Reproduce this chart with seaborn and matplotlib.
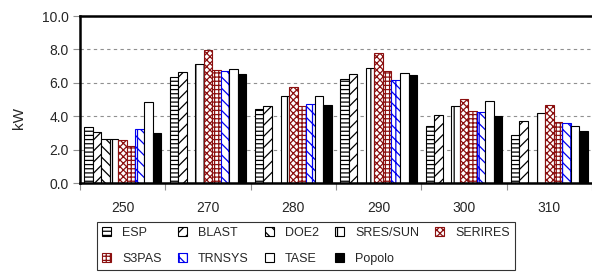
import matplotlib
matplotlib.use("Agg")
import matplotlib.pyplot as plt
import seaborn as sns
import pandas as pd
import numpy as np
from matplotlib.ticker import FixedLocator
from matplotlib.patches import Patch

categories = ["250", "270", "280", "290", "300", "310"]
series = ["ESP", "BLAST", "DOE2", "SRES/SUN", "SERIRES", "S3PAS", "TRNSYS", "TASE", "Popolo"]

esp      = [3.35, 6.35, 4.44, 6.25, 3.42, 2.89]
blast    = [3.05, 6.63, 4.62, 6.55, 4.08, 3.74]
doe2     = [2.63, 0.0, 0.0, 0.0, 0.0, 0.0]
sres_sun = [2.63, 7.15, 5.22, 6.89, 4.62, 4.18]
serires  = [2.60, 7.95, 5.74, 7.79, 5.06, 4.66]
s3pas    = [2.25, 6.79, 4.62, 6.69, 4.34, 3.65]
trnsys   = [3.23, 6.73, 4.76, 6.19, 4.28, 3.58]
tase     = [4.88, 6.85, 5.22, 6.61, 4.92, 3.42]
popolo   = [3.03, 6.53, 4.68, 6.47, 4.04, 3.11]

values = [esp, blast, doe2, sres_sun, serires, s3pas, trnsys, tase, popolo]

rows = []
for name, vals in zip(series, values):
    for c, v in zip(categories, vals):
        rows.append({"cat": c, "series": name, "kW": v})
df = pd.DataFrame(rows)

sns.set_style("white")
plt.rcParams["font.family"] = ["Liberation Sans", "DejaVu Sans"]
plt.rcParams["hatch.linewidth"] = 0.9

styles = {
    "ESP":      dict(face="white", edge="black", hatch="----"),
    "BLAST":    dict(face="white", edge="black", hatch="///"),
    "DOE2":     dict(face="white", edge="black", hatch="\\\\\\"),
    "SRES/SUN": dict(face="white", edge="black", hatch="||"),
    "SERIRES":  dict(face="white", edge="#8B1010", hatch="xxxxx"),
    "S3PAS":    dict(face="white", edge="#8B1010", hatch="++++"),
    "TRNSYS":   dict(face="white", edge="#0000EE", hatch="\\\\\\||"),
    "TASE":     dict(face="white", edge="black", hatch=None),
    "Popolo":   dict(face="black", edge="black", hatch=None),
}

fig = plt.figure(figsize=(5.92, 2.74), dpi=100)
ax = fig.add_axes([80/592, 1-183.3/274, 512/592, (183.3-16)/274])

pal = {s: styles[s]["face"] for s in series}
sns.barplot(data=df, x="cat", y="kW", hue="series", order=categories,
            hue_order=series, palette=pal, width=0.9, ax=ax, legend=False,
            saturation=1, errorbar=None)

for cont, name in zip(ax.containers, series):
    st = styles[name]
    for p in cont.patches:
        p.set_facecolor(st["face"])
        p.set_edgecolor(st["edge"])
        p.set_linewidth(0.8)
        if st["hatch"]:
            p.set_hatch(st["hatch"])

ax.set_xlim(-0.5, 5.5)
ax.set_ylim(0, 10)
ax.set_yticks(np.arange(0, 10.01, 2))
ax.set_yticklabels([f"{v:.1f}" for v in np.arange(0, 10.01, 2)])
ax.yaxis.grid(True, linestyle=(0, (3, 3)), color="#909090", linewidth=0.8)
ax.set_axisbelow(True)

ax.tick_params(axis="y", length=5, width=0.8, color="#909090", pad=3, labelsize=10, left=True)
ax.tick_params(axis="x", which="major", length=0, pad=12.5, labelsize=10)
ax.xaxis.set_minor_locator(FixedLocator(np.arange(-0.5, 5.6, 1)))
ax.tick_params(axis="x", which="minor", length=5, width=0.8, color="#909090", bottom=True)

for s in ["left", "bottom", "top"]:
    ax.spines[s].set_visible(True)
    ax.spines[s].set_color("black")
    ax.spines[s].set_linewidth(1.8)
ax.spines["right"].set_visible(False)

ax.set_xlabel("")
ax.set_ylabel("kW", fontsize=11)
ax.yaxis.set_label_coords(-0.105, 0.39)

handles = {}
for name in series:
    st = styles[name]
    handles[name] = Patch(facecolor=st["face"], edgecolor=st["edge"],
                          hatch=(st["hatch"] if st["hatch"] else None), linewidth=0.8)
order = ["ESP", "S3PAS", "BLAST", "TRNSYS", "DOE2", "TASE", "SRES/SUN", "Popolo", "SERIRES"]
leg = fig.legend([handles[n] for n in order], order, ncol=5,
                 loc="upper left", bbox_to_anchor=(97/592, 1-222/274),
                 frameon=True, fancybox=False, edgecolor="black", fontsize=9,
                 handlelength=0.7, handleheight=0.7, handletextpad=0.9,
                 columnspacing=1.3, labelspacing=1.1, borderpad=0.4,
                 borderaxespad=0)
leg.get_frame().set_linewidth(0.8)

fig.savefig("out.png", dpi=100)
